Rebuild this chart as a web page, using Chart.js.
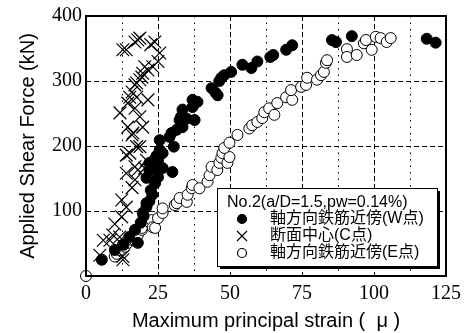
<!DOCTYPE html>
<html>
<head>
<meta charset="utf-8">
<script src="https://cdn.jsdelivr.net/npm/chart.js@4.4.1/dist/chart.umd.min.js"></script>
<style>
  html, body { margin: 0; padding: 0; background: #fff; }
  #wrap { width: 467px; height: 333px; position: relative; }
</style>
</head>
<body>
<div id="wrap"><canvas id="chart"></canvas></div>
<script>
// W point (near axial bar, west side) - filled circles
const wPoints = [
    [5.5, 25], [10, 40], [13, 48], [15, 60], [18, 51], [17, 71], [19, 82], [20, 92],
    [19.7, 97], [21, 106], [22, 115], [21, 112], [23, 125], [22.5, 132], [24, 143],
    [25, 152], [21, 151], [22, 163], [24, 163], [22, 174], [26.6, 166], [30, 160],
    [25, 178], [24.5, 185], [26.6, 189], [25.6, 194], [30.5, 199], [25.6, 209],
    [29, 214], [31.5, 225], [29.7, 220], [32.5, 240], [33.5, 229], [35, 242],
    [33, 245], [37.7, 240], [33.5, 256], [37, 260], [38.7, 268], [37, 271],
    [43.6, 289], [45, 282], [45.7, 278], [46.3, 300], [47, 305], [48, 309],
    [50.4, 314], [54.3, 325], [57.4, 320], [59.5, 330], [64, 337], [65, 340],
    [69.5, 348], [71.6, 355], [85.4, 363], [86.8, 360], [92.3, 369],
    [118.3, 365], [121.4, 359]
];

// C point (section centre) - crosses
const cPoints = [
    [4.8, 32], [6, 55], [8.3, 55], [9.3, 63], [11.7, 60], [12.8, 30], [12.8, 25],
    [12.4, 91], [10, 80], [12.4, 117], [14, 106], [16, 136], [14, 158], [17, 148],
    [18, 163], [15.2, 189], [18.7, 199], [16.3, 220], [21, 178], [20.4, 166],
    [17, 168], [14, 186], [17.6, 199], [16, 217], [14.5, 229], [19.7, 229],
    [18.7, 245], [11.8, 251], [17, 258], [14.5, 266], [21.5, 271], [17.6, 275],
    [16, 283], [17, 294], [18.7, 302], [19.7, 312], [21.5, 317], [23.2, 322],
    [25, 330], [25.6, 343], [23.9, 360], [22.5, 356], [18, 363], [17, 360],
    [14, 348], [12.8, 348], [18.7, 366], [15.2, 275], [17.6, 297], [19.4, 306],
    [20.4, 322]
];

// E point (near axial bar, east side) - open circles
const ePoints = [
    [0, 0], [10, 30], [10.7, 34], [11.8, 40], [12.8, 48], [13.5, 45], [14.5, 51],
    [16.3, 55], [17, 55], [18, 63], [19.4, 71], [19.4, 74], [22, 83], [22.8, 86],
    [23.2, 75], [24, 74], [25, 89], [26.6, 97], [26.6, 104], [30.8, 109],
    [31.5, 112], [32.5, 120], [35, 114], [35.3, 125], [36.7, 135], [37, 140],
    [39.4, 135], [42.2, 145], [42.9, 155], [43.6, 168], [45.6, 163], [46.3, 174],
    [47, 182], [47.4, 189], [49.1, 174], [49.8, 183], [48, 197], [49.8, 205],
    [52.6, 217], [56.7, 227], [57.7, 232], [59.5, 237], [61.2, 243], [61.9, 252],
    [63.6, 258], [65.4, 248], [66.4, 266], [69.5, 275], [71.6, 271], [71.2, 286],
    [74.7, 291], [76.4, 294], [76.8, 305], [80.2, 302], [81.6, 309], [82.6, 314],
    [83.3, 328], [83.7, 332], [90.6, 349], [90.6, 337], [94, 340], [96.5, 358],
    [97.2, 363], [99.2, 348], [100.6, 368], [102.3, 366], [104.4, 360], [105.8, 366]
];

const xTicks = [0, 25, 50, 75, 100, 125];
const yTicks = [100, 200, 300, 400];
const legendTitle = 'No.2(a/D=1.5,pw=0.14%)';
const seriesLabels = ['軸方向鉄筋近傍(W点)', '断面中心(C点)', '軸方向鉄筋近傍(E点)'];

const toXY = arr => arr.map(p => ({ x: p[0], y: p[1] }));

const sansFont = '"Liberation Sans", Arial, "Noto Sans CJK JP", sans-serif';
const serifFont = '"Liberation Serif", "Times New Roman", serif';

// frame around the plot area
const framePlugin = {
    id: 'frame',
    afterDatasetsDraw(chart) {
        const { ctx, chartArea: a } = chart;
        ctx.save();
        ctx.strokeStyle = '#000';
        ctx.lineWidth = 2;
        ctx.strokeRect(a.left, a.top, a.right - a.left, a.bottom - a.top);
        ctx.restore();
    }
};

// boxed legend with drop shadow, inside the plot
const boxLegend = {
    id: 'boxLegend',
    afterDraw(chart) {
        const { ctx } = chart;
        const left = 217, top = 188, w = 220, h = 78;
        ctx.save();
        ctx.fillStyle = '#000';
        ctx.fillRect(left + 3, top + 3, w, h);
        ctx.fillStyle = '#fff';
        ctx.fillRect(left, top, w, h);
        ctx.strokeStyle = '#000';
        ctx.lineWidth = 1;
        ctx.strokeRect(left + 0.5, top + 0.5, w, h);

        ctx.fillStyle = '#000';
        ctx.textBaseline = 'middle';
        ctx.font = '16px ' + sansFont;
        ctx.fillText(legendTitle, left + 10, top + 15);

        const rowY = [top + 31, top + 48, top + 65];
        chart.data.datasets.forEach((ds, i) => {
            const cx = left + 25, cy = rowY[i];
            ctx.lineWidth = 1.2;
            ctx.strokeStyle = '#000';
            if (ds.pointStyle === 'crossRot') {
                ctx.beginPath();
                ctx.moveTo(cx - 5, cy - 5); ctx.lineTo(cx + 5, cy + 5);
                ctx.moveTo(cx + 5, cy - 5); ctx.lineTo(cx - 5, cy + 5);
                ctx.stroke();
            } else {
                ctx.beginPath();
                ctx.arc(cx, cy, 4.5, 0, Math.PI * 2);
                ctx.fillStyle = ds.backgroundColor;
                ctx.fill();
                ctx.stroke();
            }
            ctx.fillStyle = '#000';
            ctx.font = '16px ' + sansFont;
            ctx.fillText(seriesLabels[i], left + 53, cy);
        });
        ctx.restore();
    }
};

const ctx = document.getElementById('chart').getContext('2d');
new Chart(ctx, {
    type: 'scatter',
    data: {
        datasets: [
            {
                label: seriesLabels[0],
                data: toXY(wPoints),
                pointStyle: 'circle',
                radius: 5.5,
                backgroundColor: '#000',
                borderColor: '#000',
                borderWidth: 1
            },
            {
                label: seriesLabels[1],
                data: toXY(cPoints),
                pointStyle: 'crossRot',
                radius: 9,
                backgroundColor: '#000',
                borderColor: '#000',
                borderWidth: 1.2
            },
            {
                label: seriesLabels[2],
                data: toXY(ePoints),
                pointStyle: 'circle',
                radius: 5.5,
                backgroundColor: '#fff',
                borderColor: '#000',
                borderWidth: 1
            }
        ]
    },
    options: {
        responsive: true,
        maintainAspectRatio: false,
        animation: false,
        clip: false,
        layout: { padding: { top: 16, right: 20, left: 0, bottom: 0 } },
        plugins: {
            legend: { display: false },
            tooltip: { enabled: false }
        },
        scales: {
            x: {
                type: 'linear',
                min: 0,
                max: 125,
                afterFit: scale => { scale.height = 57; },
                afterBuildTicks: scale => {
                    const t = [];
                    for (let v = 0; v <= 125; v += 12.5) t.push({ value: v });
                    scale.ticks = t;
                },
                ticks: {
                    color: '#000',
                    padding: 6,
                    maxRotation: 0,
                    autoSkip: false,
                    font: { family: serifFont, size: 20 },
                    callback: v => xTicks.includes(v) ? String(v) : ''
                },
                grid: {
                    color: '#000',
                    lineWidth: 1,
                    drawTicks: false
                },
                border: {
                    display: false,
                    dash: c => (c.tick && c.tick.value % 25 === 0) ? [5, 3] : [1.5, 5]
                },
                title: {
                    display: true,
                    text: 'Maximum principal strain (  μ )',
                    color: '#000',
                    font: { family: sansFont, size: 20 },
                    padding: { top: 0, bottom: 0 }
                }
            },
            y: {
                type: 'linear',
                min: 0,
                max: 400,
                afterFit: scale => { scale.width = 86; },
                ticks: {
                    stepSize: 100,
                    color: '#000',
                    padding: 4,
                    font: { family: serifFont, size: 20 },
                    callback: v => yTicks.includes(v) ? String(v) : ''
                },
                grid: {
                    color: '#000',
                    lineWidth: 1,
                    drawTicks: false
                },
                border: {
                    display: false,
                    dash: [5, 3]
                },
                title: {
                    display: true,
                    text: 'Applied Shear Force (kN)',
                    color: '#000',
                    font: { family: sansFont, size: 20 },
                    padding: { top: 16, bottom: 0 }
                }
            }
        }
    },
    plugins: [framePlugin, boxLegend]
});
</script>
</body>
</html>
